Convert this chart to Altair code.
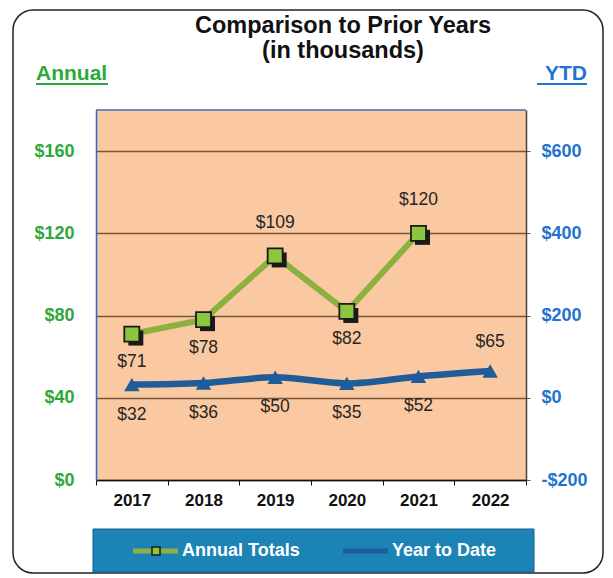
import altair as alt
import pandas as pd

# ---------------- data ----------------
years = ["2017", "2018", "2019", "2020", "2021", "2022"]
annual_years = ["2017", "2018", "2019", "2020", "2021"]
annual_totals = [71, 78, 109, 82, 120]
annual_label_side = ["below", "below", "above", "below", "above"]
ytd_values = [32, 36, 50, 35, 52, 65]
ytd_label_side = ["below", "below", "below", "below", "below", "above"]
left_ticks = [0, 40, 80, 120, 160]
right_ticks = [-200, 0, 200, 400, 600]
left_domain = [0, 180]
right_domain = [-200, 700]
title_lines = ["Comparison to Prior Years", "(in thousands)"]
axis_titles = ["Annual", "YTD"]
legend_labels = ["Annual Totals", "Year to Date"]

# ---------------- style ----------------
FONT = "Arial, Liberation Sans, sans-serif"
PEACH = "#FAC9A2"
GREEN_LINE = "#8DB03E"
GREEN_FILL = "#8CC63F"
BLUE_LINE = "#1F5C99"
GREEN_TEXT = "#2EA83C"
BLUE_TEXT = "#1F73D1"
LEGEND_BG = "#1C83B7"
GRID = "#7A5535"
DARK = "#1a1a1a"
W, H = 430, 370

df_annual = pd.DataFrame({"year": annual_years, "value": annual_totals, "side": annual_label_side})
df_annual["label"] = "$" + df_annual["value"].astype(str)
df_ytd = pd.DataFrame({"year": years, "value": ytd_values, "side": ytd_label_side})
df_ytd["label"] = "$" + df_ytd["value"].astype(str)
one = pd.DataFrame({"k": [0]})

x_scale = alt.Scale(type="band", domain=years, paddingInner=0, paddingOuter=0)
x_axis = alt.Axis(orient="bottom", title=None, labelFont=FONT, labelFontSize=17,
                  labelFontWeight="bold", labelColor="#111111", labelPadding=7,
                  labelAngle=0, tickBand="extent", ticks=True, tickColor="#111111",
                  tickSize=5, domainColor="#111111", domainWidth=1.5, grid=False)


def X():
    return alt.X("year:N", scale=x_scale, axis=x_axis)


left_axis = alt.Axis(orient="left", values=left_ticks, title=None,
                     labelExpr="'$' + datum.value", grid=True, gridColor=GRID,
                     gridWidth=1.3, ticks=False, domainColor="#1F6FD0", domainWidth=1.5,
                     labelColor=GREEN_TEXT, labelFont=FONT, labelFontSize=18,
                     labelFontWeight="bold", labelPadding=22)
right_axis = alt.Axis(orient="right", values=right_ticks, title=None,
                      labelExpr="datum.value < 0 ? '-$' + abs(datum.value) : '$' + datum.value",
                      grid=False, ticks=True, tickSize=4, tickColor="#555555",
                      domainColor="#444444", domainWidth=1.5, labelColor=BLUE_TEXT,
                      labelFont=FONT, labelFontSize=18, labelFontWeight="bold",
                      labelPadding=11)


def YA():
    return alt.Y("value:Q", scale=alt.Scale(domain=left_domain, nice=False, zero=False), axis=left_axis)


def YB():
    return alt.Y("value:Q", scale=alt.Scale(domain=right_domain, nice=False, zero=False), axis=right_axis)


# ---------------- annual series ----------------
base_a = alt.Chart(df_annual)
a_line = base_a.mark_line(color=GREEN_LINE, strokeWidth=6).encode(x=X(), y=YA())
a_shadow = base_a.mark_square(size=225, color=DARK, opacity=1, xOffset=4, yOffset=4).encode(x=X(), y=YA())
a_pts = base_a.mark_square(size=225, fill=GREEN_FILL, stroke=DARK, strokeWidth=1.8, opacity=1,
                           filled=False).encode(x=X(), y=YA())
a_lab_below = base_a.transform_filter("datum.side == 'below'").mark_text(
    font=FONT, fontSize=17.5, color="#262626", dy=28).encode(x=X(), y=YA(), text="label:N")
a_lab_above = base_a.transform_filter("datum.side == 'above'").mark_text(
    font=FONT, fontSize=17.5, color="#262626", dy=-33).encode(x=X(), y=YA(), text="label:N")
annual_layer = alt.layer(a_line, a_shadow, a_pts, a_lab_below, a_lab_above)

# ---------------- YTD series ----------------
base_b = alt.Chart(df_ytd)
b_line = base_b.mark_line(color=BLUE_LINE, strokeWidth=6.5, interpolate="monotone").encode(x=X(), y=YB())
b_pts = base_b.mark_point(shape="triangle-up", size=240, filled=True, color=BLUE_LINE,
                          opacity=1).encode(x=X(), y=YB())
b_lab_below = base_b.transform_filter("datum.side == 'below'").mark_text(
    font=FONT, fontSize=17.5, color="#262626", dy=30).encode(x=X(), y=YB(), text="label:N")
b_lab_above = base_b.transform_filter("datum.side == 'above'").mark_text(
    font=FONT, fontSize=17.5, color="#262626", dy=-29).encode(x=X(), y=YB(), text="label:N")
ytd_layer = alt.layer(b_line, b_pts, b_lab_below, b_lab_above)

# ---------------- decorations ----------------
deco = alt.Chart(one)
top_border = deco.mark_rule(color="#3B6EA8", strokeWidth=1.5).encode(
    x=alt.value(0), x2=alt.value(W), y=alt.value(0))
outer = deco.mark_rect(fillOpacity=0, stroke="#222222", strokeWidth=1.5, cornerRadius=20).encode(
    x=alt.value(-83), x2=alt.value(507), y=alt.value(-100), y2=alt.value(463))
t1 = deco.mark_text(text=title_lines[0], font=FONT, fontSize=23.5, fontWeight="bold",
                    color="#111111", align="center", baseline="alphabetic").encode(
    x=alt.value(247), y=alt.value(-77))
t2 = deco.mark_text(text=title_lines[1], font=FONT, fontSize=23.5, fontWeight="bold",
                    color="#111111", align="center", baseline="alphabetic").encode(
    x=alt.value(247), y=alt.value(-52))
ann = deco.mark_text(text=axis_titles[0], font=FONT, fontSize=21, fontWeight="bold",
                     color=GREEN_TEXT, align="left", baseline="alphabetic").encode(
    x=alt.value(-60), y=alt.value(-30))
ann_u = deco.mark_rule(color=GREEN_TEXT, strokeWidth=1.8).encode(
    x=alt.value(-60), x2=alt.value(12), y=alt.value(-26))
ytd_t = deco.mark_text(text=axis_titles[1], font=FONT, fontSize=21, fontWeight="bold",
                       color=BLUE_TEXT, align="right", baseline="alphabetic").encode(
    x=alt.value(491), y=alt.value(-30))
ytd_u = deco.mark_rule(color=BLUE_TEXT, strokeWidth=1.8).encode(
    x=alt.value(441), x2=alt.value(491), y=alt.value(-26))

leg_box = deco.mark_rect(fill=LEGEND_BG, stroke="#145f88", strokeWidth=1).encode(
    x=alt.value(-3), x2=alt.value(438), y=alt.value(419), y2=alt.value(462))
leg_l1 = deco.mark_rule(color=GREEN_LINE, strokeWidth=5).encode(
    x=alt.value(37), x2=alt.value(82), y=alt.value(441))
leg_s1 = deco.mark_square(size=64, fill=GREEN_FILL, stroke=DARK, strokeWidth=1.5, opacity=1).encode(
    x=alt.value(60), y=alt.value(441))
leg_t1 = deco.mark_text(text=legend_labels[0], font=FONT, fontSize=18, fontWeight="bold",
                        color="white", align="left", baseline="middle").encode(
    x=alt.value(86), y=alt.value(441))
leg_l2 = deco.mark_rule(color=BLUE_LINE, strokeWidth=5).encode(
    x=alt.value(247), x2=alt.value(292), y=alt.value(441))
leg_t2 = deco.mark_text(text=legend_labels[1], font=FONT, fontSize=18, fontWeight="bold",
                        color="white", align="left", baseline="middle").encode(
    x=alt.value(296), y=alt.value(441))

chart = alt.layer(
    annual_layer, ytd_layer, top_border, outer, t1, t2, ann, ann_u, ytd_t, ytd_u,
    leg_box, leg_l1, leg_s1, leg_t1, leg_l2, leg_t2
).resolve_scale(y="independent").properties(
    width=W, height=H,
    autosize=alt.AutoSizeParams(type="none"),
    padding={"left": 88, "top": 102, "right": 79, "bottom": 95},
).configure_view(fill=PEACH, strokeWidth=0)

chart.save("out.html", embed_options={"renderer": "svg", "actions": False})
